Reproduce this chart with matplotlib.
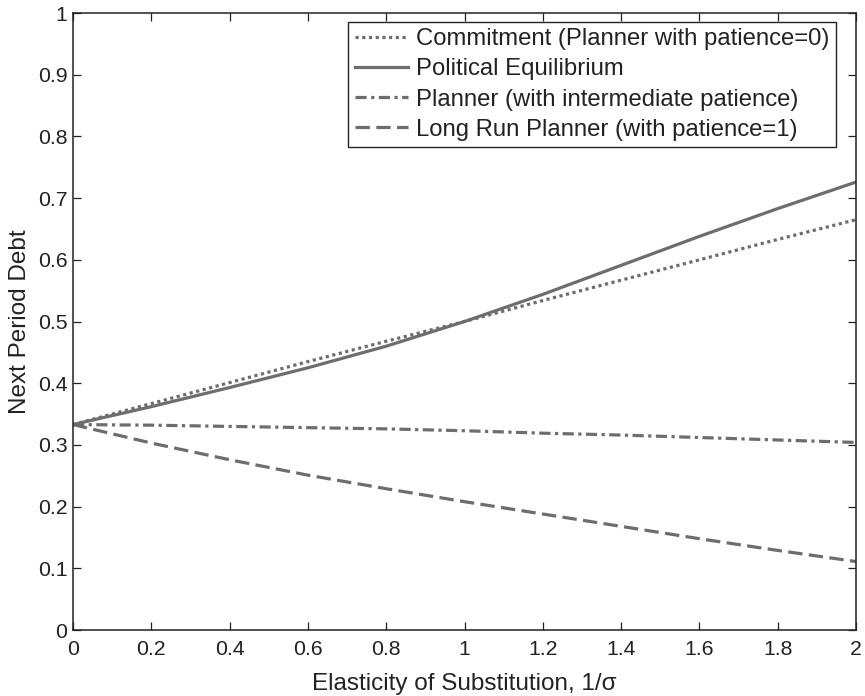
import matplotlib
matplotlib.use("Agg")
import matplotlib.pyplot as plt

plt.rcParams['font.family'] = ['Liberation Sans', 'DejaVu Sans']

# data
elasticity = [0.0, 0.2, 0.4, 0.6, 0.8, 1.0, 1.2, 1.4, 1.6, 1.8, 2.0]
commitment = [0.333, 0.367, 0.401, 0.435, 0.468, 0.500, 0.534, 0.567, 0.600, 0.633, 0.665]
political = [0.333, 0.362, 0.393, 0.425, 0.460, 0.500, 0.544, 0.591, 0.638, 0.683, 0.726]
planner_mid = [0.333, 0.332, 0.330, 0.328, 0.326, 0.323, 0.319, 0.316, 0.312, 0.308, 0.304]
planner_long = [0.333, 0.303, 0.276, 0.251, 0.229, 0.208, 0.188, 0.168, 0.148, 0.129, 0.111]

labels = ["Commitment (Planner with patience=0)",
          "Political Equilibrium",
          "Planner (with intermediate patience)",
          "Long Run Planner (with patience=1)"]

grey = "#6d6d6f"
lw = 2.3

fig = plt.figure(figsize=(8.65, 6.96), dpi=100)
ax = fig.add_axes([0.0844, 0.0948, 0.9052, 0.8865])

ax.plot(elasticity, commitment, color=grey, lw=lw, ls=(0, (1, 1.1)), label=labels[0])
ax.plot(elasticity, political, color=grey, lw=lw, ls="-", label=labels[1])
ax.plot(elasticity, planner_mid, color=grey, lw=lw, ls=(0, (3.5, 1.4, 1, 1.4)), label=labels[2])
ax.plot(elasticity, planner_long, color=grey, lw=lw, ls=(0, (4.5, 2)), label=labels[3])

ax.set_xlim(0, 2)
ax.set_ylim(0, 1)
ax.set_xticks([0, 0.2, 0.4, 0.6, 0.8, 1, 1.2, 1.4, 1.6, 1.8, 2])
ax.set_xticklabels(["0", "0.2", "0.4", "0.6", "0.8", "1", "1.2", "1.4", "1.6", "1.8", "2"])
ax.set_yticks([0, 0.1, 0.2, 0.3, 0.4, 0.5, 0.6, 0.7, 0.8, 0.9, 1])
ax.set_yticklabels(["0", "0.1", "0.2", "0.3", "0.4", "0.5", "0.6", "0.7", "0.8", "0.9", "1"])
ax.tick_params(direction="in", length=6, width=0.9, top=True, right=True,
               labelsize=15.3, colors="#222222")
ax.tick_params(axis="x", pad=7)
ax.tick_params(axis="y", pad=4)
for s in ax.spines.values():
    s.set_linewidth(1.1)
    s.set_color("#222222")

ax.set_xlabel("Elasticity of Substitution, 1/σ", fontsize=17.5, color="#222222", labelpad=10)
ax.set_ylabel("Next Period Debt", fontsize=17.5, color="#222222", labelpad=5)

leg = ax.legend(loc="upper right", bbox_to_anchor=(0.9745, 0.986), fontsize=17.2,
                frameon=True, fancybox=False, framealpha=1, edgecolor="#222222",
                handlelength=2.2, handletextpad=0.35, labelspacing=0.34,
                borderpad=0.28, borderaxespad=0)
leg.get_frame().set_linewidth(1.0)
for t in leg.get_texts():
    t.set_color("#222222")

fig.savefig("out.png", dpi=100)
